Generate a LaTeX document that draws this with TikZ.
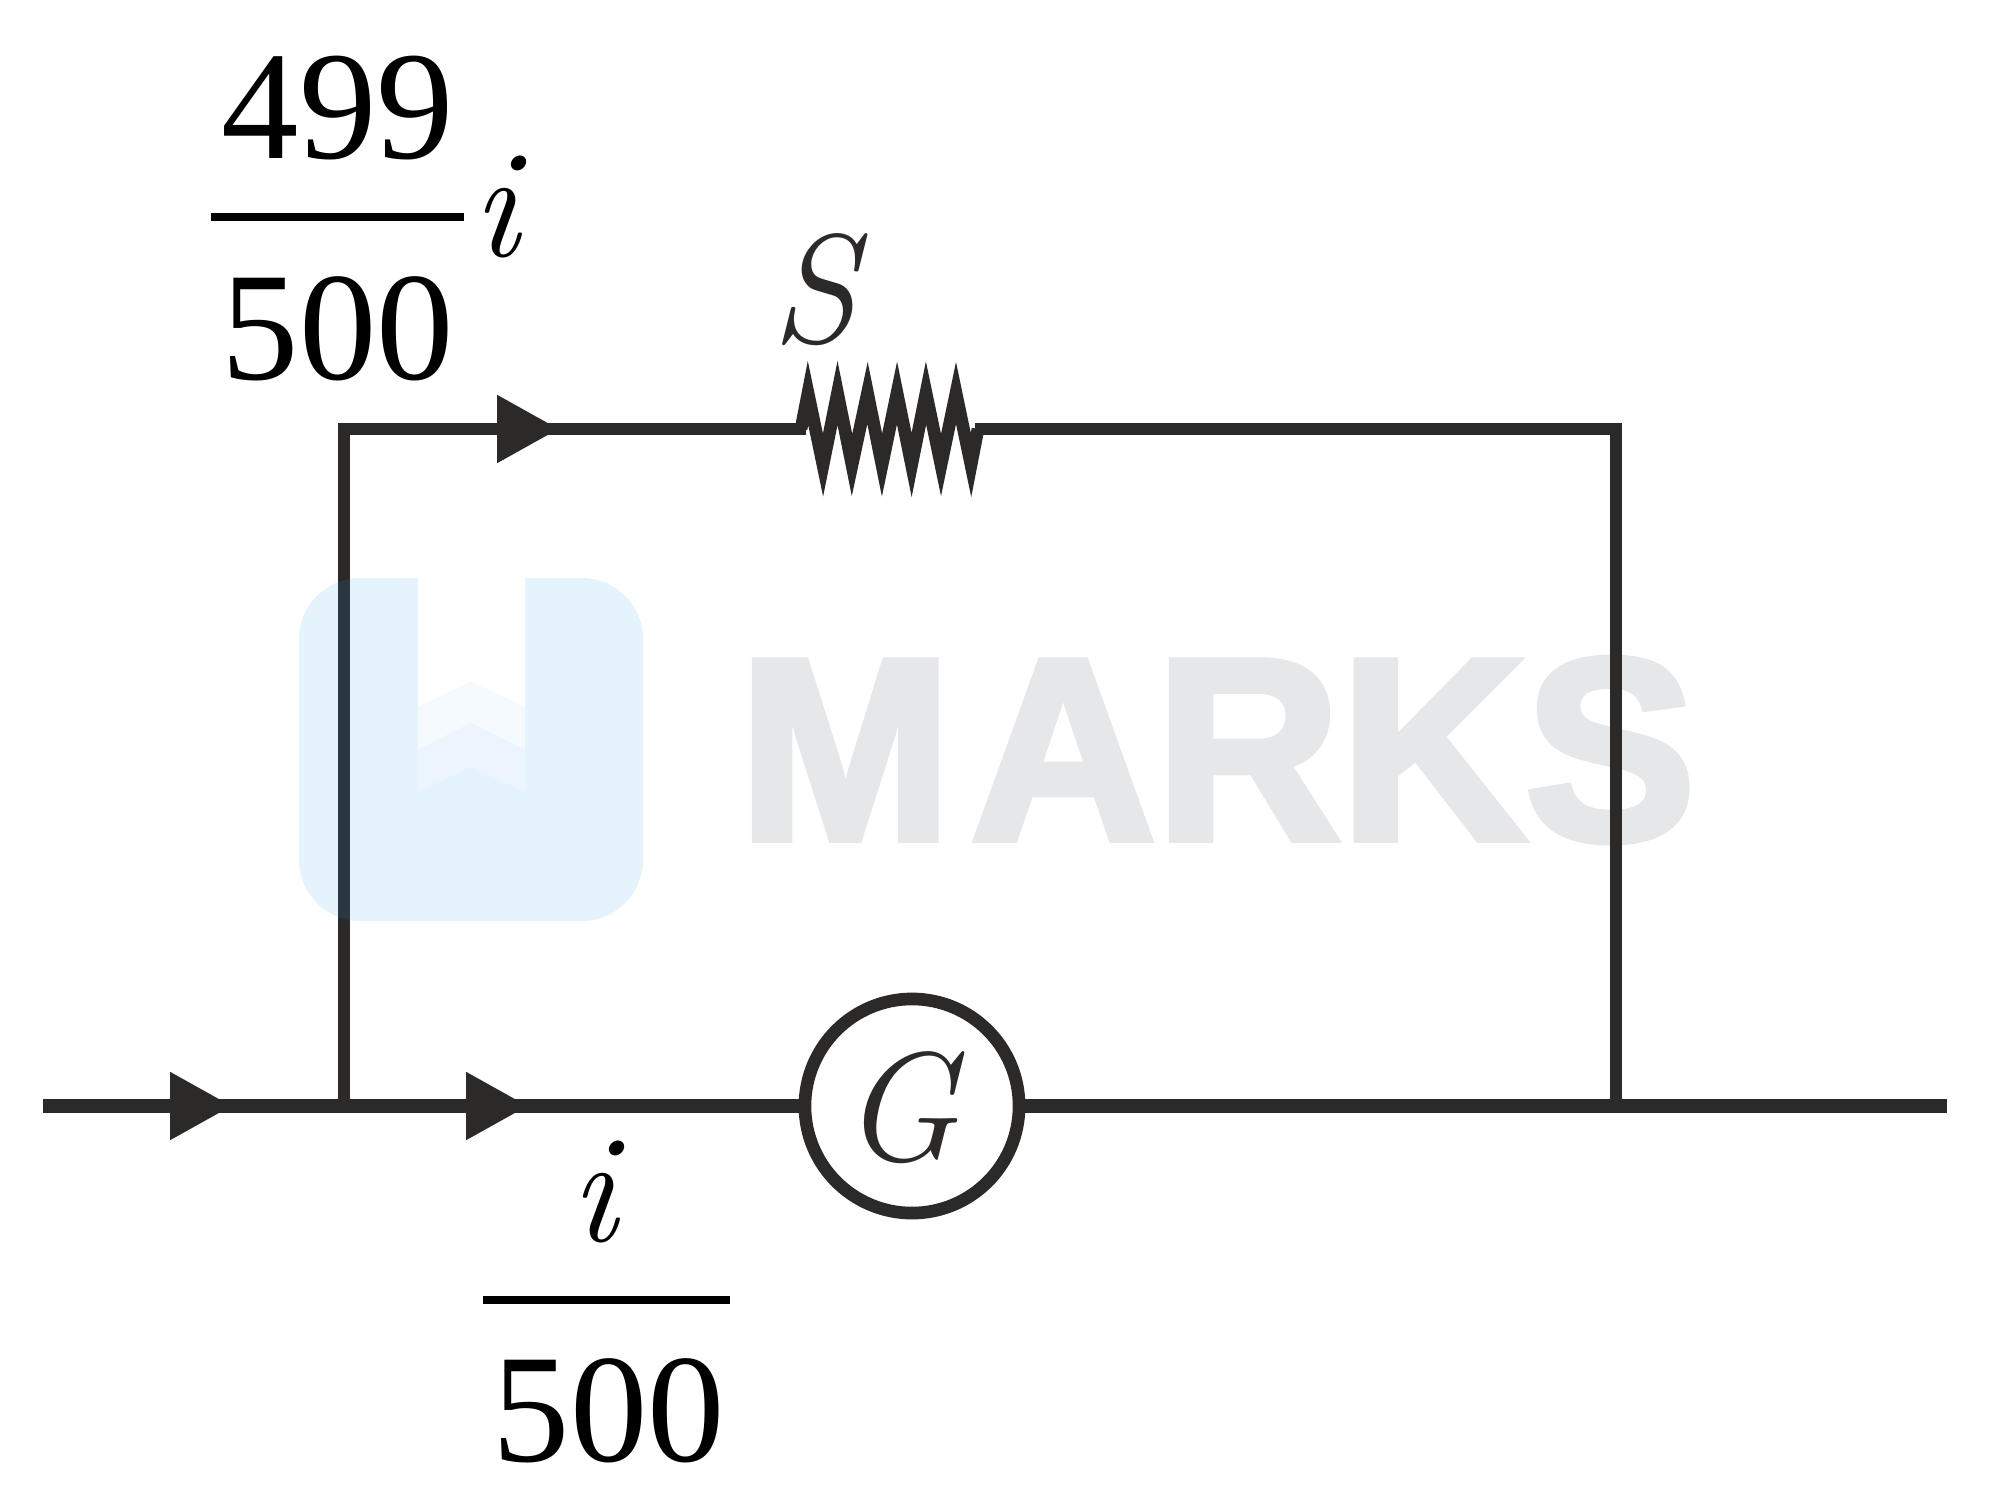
\documentclass[tikz,border=0pt]{standalone}
\usepackage{fontspec}
\newfontfamily\digitfont{Liberation Serif}
\newfontfamily\marksfont{Liberation Sans}[BoldFeatures={FakeBold=3}]
\definecolor{wirecol}{RGB}{43, 42, 41}
\definecolor{wireblue}{RGB}{42, 54, 64}
\definecolor{markblue}{RGB}{229, 243, 253}
\definecolor{markband}{RGB}{236, 244, 253}
\definecolor{markgray}{RGB}{230, 231, 233}
\usetikzlibrary{arrows.meta}
\tikzset{
  wire/.style={draw=wirecol, line width=3.6pt},
  mainwire/.style={draw=wirecol, line width=3.85pt},
  arrowed/.style={wire, -{Triangle[length=17.6pt, width=18.4pt]}},
  label/.style={font=\fontsize{44}{50}\selectfont, anchor=base, inner sep=0pt},
  digits/.style={label, font=\digitfont\fontsize{44}{50}\selectfont},
  fracbar/.style={draw=black, line width=2.2pt},
}
\begin{document}
\begin{tikzpicture}[x=0.01cm, y=-0.01cm]
  \useasboundingbox (0, 0) rectangle (1992, 1500);
  % Watermark
  \fill[markblue, rounded corners=17.4pt] (299, 578) rectangle (643, 921);
  \fill[white] (418, 578) -- (525, 578) -- (525, 707) -- (471, 682) -- (418, 707) -- cycle;
  \fill[white!60!markblue] (418, 707) -- (471, 682) -- (525, 707) -- (525, 750) -- (471, 723) -- (418, 750) -- cycle;
  \fill[markband] (418, 750) -- (471, 723) -- (525, 750) -- (525, 792) -- (471, 767) -- (418, 792) -- cycle;
  \node[font=\marksfont\bfseries\fontsize{73.5}{80}\selectfont, text=markgray, anchor=base west, inner sep=0pt] (marks) at (738, 839) {\scalebox{0.99}[1]{M\kern 5.5pt ARKS}};
  % Junctions and resistor ends
  \coordinate (start) at (43, 1106);
  \coordinate (arrowa) at (232, 1106);
  \coordinate (jleft) at (344, 1106);
  \coordinate (arrowb) at (528, 1106);
  \coordinate (jright) at (1616, 1106);
  \coordinate (stop) at (1947, 1106);
  \coordinate (corner) at (344, 429);
  \coordinate (arrowc) at (559, 429);
  \coordinate (resl) at (806, 429);
  \coordinate (resr) at (975, 429);
  % Galvanometer
  \node[circle, wire, fill=white, minimum size=2.14cm, inner sep=0pt] (galv) at (912, 1106) {};
  \node[label, text=wirecol] (gtext) at (903, 1160) {\textit{G}};
  % Upper branch
  \draw[wire] (jleft) |- (resl);
  \begin{scope}
    \clip[rounded corners=17.4pt] (299, 578) rectangle (643, 921);
    \draw[wire, draw=wireblue] (jleft) -- (corner);
  \end{scope}
  \draw[arrowed] (corner) -- (arrowc);
  \draw[wire] (801, 429) -- (808, 393) -- (823, 465) -- (837.5, 393) -- (852, 465) -- (867.5, 393) -- (882, 465) -- (897, 393) -- (911.6, 465) -- (926, 393) -- (941, 465) -- (956, 393) -- (971, 465) -- (978, 429);
  \draw[wire] (resr) -| (jright);
  % Main line
  \draw[mainwire] (start) -- (galv.west);
  \draw[mainwire] (galv.east) -- (stop);
  \draw[arrowed] (start) -- (arrowa);
  \draw[arrowed] (jleft) -- (arrowb);
  % Labels
  \node[digits] (numa) at (338, 159) {499};
  \draw[fracbar] (211, 217) coordinate (bara) -- (464, 217) coordinate (barb);
  \node[digits] (dena) at (338, 379) {500};
  \node[label] (ia) at (500, 256) {\textit{i}};
  \node[label, text=wirecol] (stext) at (820, 342) {\textit{S}};
  \node[label] (ib) at (598, 1241) {\textit{i}};
  \draw[fracbar] (483, 1300) coordinate (barc) -- (730, 1300) coordinate (bard);
  \node[digits] (denb) at (609, 1461) {500};
\end{tikzpicture}
\end{document}
